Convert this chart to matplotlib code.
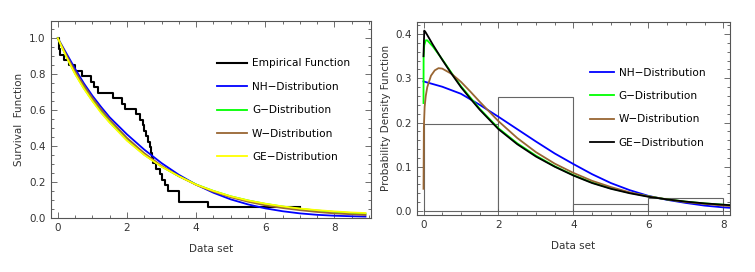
import matplotlib
matplotlib.use("Agg")
import matplotlib.pyplot as plt
from matplotlib.ticker import MultipleLocator
import numpy as np

# ---- data set (33 observations, read from empirical survival steps / histogram) ----
data = [0.02, 0.03, 0.05, 0.18, 0.33, 0.50, 0.70, 0.95, 1.05, 1.15, 1.60, 1.85, 1.95,
        2.25, 2.38, 2.45, 2.50, 2.55, 2.60, 2.66, 2.70, 2.73, 2.76, 2.85, 2.95, 3.02,
        3.10, 3.20, 3.50, 3.50, 4.35, 7.40, 7.90]
emp_xmax = 7.0

# ---- survival curves ----
sx = [0, 0.25, 0.5, 0.75, 1.0, 1.25, 1.5, 2.0, 2.5, 3.0, 3.5, 4.0, 4.5, 5.0, 5.5,
      6.0, 6.5, 7.0, 7.5, 8.0, 8.5, 8.9]
s_nh = [1.0, 0.915, 0.83, 0.75, 0.68, 0.618, 0.56, 0.465, 0.38, 0.305, 0.24, 0.185,
        0.14, 0.103, 0.075, 0.053, 0.037, 0.025, 0.017, 0.012, 0.009, 0.007]
s_g = [1.0, 0.897, 0.803, 0.723, 0.653, 0.59, 0.533, 0.433, 0.352, 0.286, 0.232, 0.186,
       0.15, 0.12, 0.097, 0.078, 0.063, 0.051, 0.041, 0.033, 0.027, 0.023]
s_w = [1.0, 0.905, 0.815, 0.738, 0.667, 0.604, 0.547, 0.445, 0.36, 0.29, 0.232, 0.184,
       0.146, 0.115, 0.09, 0.07, 0.055, 0.043, 0.033, 0.025, 0.02, 0.016]
s_ge = [1.0, 0.895, 0.80, 0.72, 0.65, 0.585, 0.53, 0.43, 0.35, 0.285, 0.232, 0.185,
        0.15, 0.12, 0.097, 0.079, 0.064, 0.052, 0.043, 0.036, 0.030, 0.027]

# ---- density curves ----
px_nh = [0, 0.5, 1.0, 1.5, 2.0, 2.5, 3.0, 3.5, 4.0, 4.5, 5.0, 5.5, 6.0, 6.5, 7.0, 7.5, 8.0, 8.18]
p_nh = [0.293, 0.281, 0.265, 0.24, 0.213, 0.185, 0.157, 0.13, 0.106, 0.083, 0.063, 0.047,
        0.034, 0.025, 0.018, 0.012, 0.008, 0.007]
px_g = [0, 0.003, 0.02, 0.06, 0.1, 0.25, 0.5, 0.75, 1.0, 1.5, 2.0, 2.5, 3.0, 3.5, 4.0, 4.5,
        5.0, 5.5, 6.0, 6.5, 7.0, 7.5, 8.0, 8.18]
p_g = [0.244, 0.35, 0.375, 0.386, 0.386, 0.372, 0.343, 0.312, 0.282, 0.231, 0.187, 0.153,
       0.125, 0.101, 0.081, 0.064, 0.051, 0.041, 0.033, 0.026, 0.021, 0.017, 0.014, 0.013]
px_w = [0, 0.01, 0.03, 0.06, 0.1, 0.2, 0.3, 0.4, 0.5, 0.75, 1.0, 1.25, 1.5, 2.0, 2.5, 3.0,
        3.5, 4.0, 4.5, 5.0, 5.5, 6.0, 6.5, 7.0, 7.5, 8.0, 8.18]
p_w = [0.05, 0.19, 0.235, 0.26, 0.28, 0.306, 0.318, 0.323, 0.322, 0.31, 0.292, 0.27, 0.247,
       0.203, 0.165, 0.133, 0.107, 0.086, 0.068, 0.054, 0.042, 0.033, 0.026, 0.02, 0.016,
       0.012, 0.011]
px_ge = [0, 0.02, 0.05, 0.1, 0.25, 0.5, 0.75, 1.0, 1.25, 1.5, 2.0, 2.5, 3.0, 3.5, 4.0, 4.5,
         5.0, 5.5, 6.0, 6.5, 7.0, 7.5, 8.0, 8.18]
p_ge = [0.35, 0.408, 0.405, 0.398, 0.376, 0.342, 0.31, 0.28, 0.254, 0.229, 0.185, 0.151,
        0.123, 0.1, 0.08, 0.063, 0.05, 0.04, 0.032, 0.026, 0.021, 0.017, 0.014, 0.013]
hist_bins = [0, 2, 4, 6, 8]

labels = ["NH\u2212Distribution", "G\u2212Distribution", "W\u2212Distribution", "GE\u2212Distribution"]
c_nh, c_g, c_w, c_ge_s, c_ge_p = "#0000FF", "#00FF00", "#996633", "#FFFF00", "#000000"

plt.rcParams['font.family'] = ['DejaVu Sans']
fig = plt.figure(figsize=(7.55, 2.72), dpi=100)
ax1 = fig.add_axes([0.067, 0.199, 0.424, 0.725])
ax2 = fig.add_axes([0.552, 0.210, 0.415, 0.710])

txtc = "#333333"
def style(ax):
    for s in ax.spines.values():
        s.set_color("#555555")
        s.set_linewidth(0.8)
    ax.tick_params(which='both', direction='in', top=True, right=True, colors="#555555",
                   labelcolor=txtc, labelsize=7.5, width=0.6)
    ax.tick_params(which='major', length=4.5)
    ax.tick_params(which='minor', length=2.5)

# ---- left panel ----
d = np.sort(np.array(data))
n = len(d)
ex = [0.0]
ey = [1.0]
for i, v in enumerate(d):
    if v <= emp_xmax:
        ex.append(v)
        ey.append(1 - (i + 1) / n)
ex.append(emp_xmax)
ey.append(ey[-1])
ax1.step(ex, ey, where='post', color='black', lw=1.5, label="Empirical Function")
ax1.plot(sx, s_nh, color=c_nh, lw=1.3, label=labels[0])
ax1.plot(sx, s_g, color=c_g, lw=1.3, label=labels[1])
ax1.plot(sx, s_w, color=c_w, lw=1.3, label=labels[2])
ax1.plot(sx, s_ge, color=c_ge_s, lw=1.3, label=labels[3])
ax1.set_xlim(-0.21, 9.05)
ax1.set_ylim(0, 1.098)
ax1.xaxis.set_major_locator(MultipleLocator(2))
ax1.xaxis.set_minor_locator(MultipleLocator(0.5))
ax1.yaxis.set_major_locator(MultipleLocator(0.2))
ax1.yaxis.set_minor_locator(MultipleLocator(0.05))
style(ax1)
ax1.set_xlabel("Data set", fontsize=7.5, color=txtc, labelpad=8)
ax1.set_ylabel("Survival  Function", fontsize=7.5, color=txtc, labelpad=4)
ax1.legend(loc='upper left', bbox_to_anchor=(0.507, 0.83), frameon=False, fontsize=7.6,
           handlelength=2.8, labelspacing=1.27, handletextpad=0.5, borderaxespad=0)

# ---- right panel ----
ax2.hist(d, bins=hist_bins, density=True, facecolor='white', edgecolor='#666666', lw=0.8)
ax2.plot(px_nh, p_nh, color=c_nh, lw=1.3, label=labels[0])
ax2.plot(px_g, p_g, color=c_g, lw=1.3, label=labels[1])
ax2.plot(px_w, p_w, color=c_w, lw=1.3, label=labels[2])
ax2.plot(px_ge, p_ge, color=c_ge_p, lw=1.3, label=labels[3])
ax2.set_xlim(-0.18, 8.18)
ax2.set_ylim(-0.009, 0.428)
ax2.xaxis.set_major_locator(MultipleLocator(2))
ax2.xaxis.set_minor_locator(MultipleLocator(0.5))
ax2.yaxis.set_major_locator(MultipleLocator(0.1))
ax2.yaxis.set_minor_locator(MultipleLocator(0.02))
style(ax2)
ax2.set_xlabel("Data set", fontsize=7.5, color=txtc, labelpad=8)
ax2.set_ylabel("Probability Density Function", fontsize=7.5, color=txtc, labelpad=3)
ax2.legend(loc='upper left', bbox_to_anchor=(0.54, 0.785), frameon=False, fontsize=7.6,
           handlelength=2.3, labelspacing=1.27, handletextpad=0.4, borderaxespad=0)

fig.savefig("out.png", dpi=100)
